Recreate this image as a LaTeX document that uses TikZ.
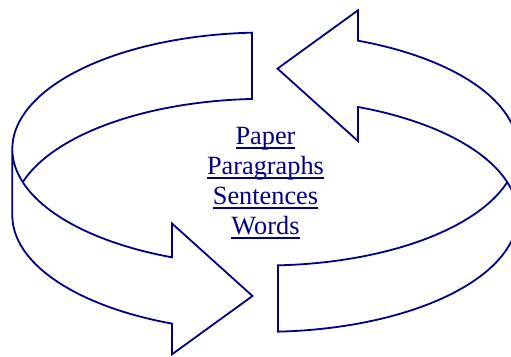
\documentclass[tikz,border=0pt]{standalone}
\usepackage{fontspec}
\setmainfont{Liberation Serif}
\definecolor{navy}{RGB}{0,0,128}
\newcommand\myul[1]{\setbox0=\hbox{#1}\rlap{\rule[-4.4pt]{\wd0}{1.7pt}}\box0}
\begin{document}
\begin{tikzpicture}[x=1pt,y=-1pt,
  outline/.style={draw=navy, line width=1.8pt, line join=miter},
  lbl/.style={anchor=base, text=navy, font=\fontsize{26.3}{30}\selectfont, inner sep=0pt}]
\fill[white] (0,0) rectangle (511,356);
\useasboundingbox (0,0) rectangle (511,356);
\clip (0,0) rectangle (511,356);
\def\ecx{265}\def\eay{149}\def\eby{215.3}\def\erx{252.7}\def\ery{116.5}
% left arrow (top, around the left, pointing right at the bottom)
\draw[outline]
  plot[domain=196.53:267.05, samples=60] ({\ecx+\erx*cos(\x)},{\eby+\ery*sin(\x)})
  -- plot[domain=267.05:111.6, samples=120] ({\ecx+\erx*cos(\x)},{\eay+\ery*sin(\x)})
  -- (172,223.5) -- (252.5,296) -- (172,354.3)
  -- plot[domain=111.6:180, samples=60] ({\ecx+\erx*cos(\x)},{\eby+\ery*sin(\x)})
  -- ({\ecx-\erx},\eay);
% right arrow (bottom, around the right, pointing left at the top)
\draw[outline]
  plot[domain=16.53:87.05, samples=60] ({\ecx+\erx*cos(\x)},{\eay+\ery*sin(\x)})
  -- plot[domain=87.05:-68.4, samples=120] ({\ecx+\erx*cos(\x)},{\eby+\ery*sin(\x)})
  -- (358,141.1) -- (277.5,68.6) -- (358,10.3)
  -- plot[domain=-68.4:0, samples=60] ({\ecx+\erx*cos(\x)},{\eay+\ery*sin(\x)})
  -- ({\ecx+\erx},\eby);
% labels
\node[lbl] (paper) at (265.5,144.3) {\myul{Paper}};
\node[lbl] (paragraphs) at (265.5,174.3) {\myul{Paragraphs}};
\node[lbl] (sentences) at (265.5,204.6) {\myul{Sentences}};
\node[lbl] (words) at (265.5,234.3) {\myul{Words}};
\end{tikzpicture}
\end{document}
